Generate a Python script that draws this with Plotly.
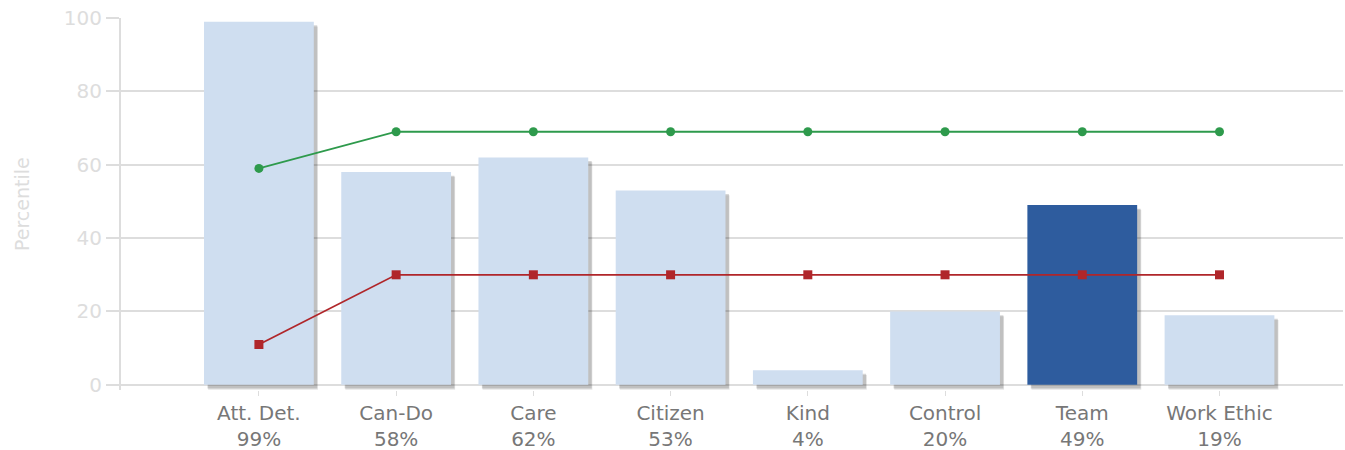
import plotly.graph_objects as go

categories = ["Att. Det.", "Can-Do", "Care", "Citizen", "Kind", "Control", "Team", "Work Ethic"]
scores = [99, 58, 62, 53, 4, 20, 49, 19]
green_line = [59, 69, 69, 69, 69, 69, 69, 69]
red_line = [11, 30, 30, 30, 30, 30, 30, 30]
highlight = "Team"
y_ticks = [0, 20, 40, 60, 80, 100]

x = list(range(len(categories)))
ticktext = [f"{c}<br>{v}%" for c, v in zip(categories, scores)]
bar_colors = ["#2e5c9e" if c == highlight else "#cfdef0" for c in categories]

fig = go.Figure()
# shadow layers
fig.add_trace(go.Bar(x=x, y=scores, base=-1.3, width=0.8, offset=-0.37,
                     marker=dict(color="rgba(0,0,0,0.10)", line=dict(width=0)),
                     hoverinfo="skip", showlegend=False))
fig.add_trace(go.Bar(x=x, y=scores, base=-1.0, width=0.8, offset=-0.375,
                     marker=dict(color="rgba(0,0,0,0.16)", line=dict(width=0)),
                     hoverinfo="skip", showlegend=False))
fig.add_trace(go.Bar(x=x, y=scores, width=0.8, offset=-0.4,
                     marker=dict(color=bar_colors, line=dict(width=0)),
                     showlegend=False))
fig.add_trace(go.Scatter(x=x, y=green_line, mode="lines+markers",
                         line=dict(color="#2e9a4c", width=1.8),
                         marker=dict(symbol="circle", size=9, color="#2e9a4c"),
                         showlegend=False))
fig.add_trace(go.Scatter(x=x, y=red_line, mode="lines+markers",
                         line=dict(color="#b0262a", width=1.8),
                         marker=dict(symbol="square", size=9, color="#b0262a"),
                         showlegend=False))

fig.update_layout(
    width=1345, height=450,
    margin=dict(l=121, r=2, t=18, b=60),
    paper_bgcolor="white", plot_bgcolor="white",
    barmode="overlay",
    font=dict(family="DejaVu Sans", size=20, color="#777777"),
    annotations=[dict(text="Percentile", xref="paper", yref="paper",
                      x=-99 / 1222, y=0.5, xanchor="center", yanchor="middle",
                      textangle=-90, showarrow=False,
                      font=dict(size=19, color="#dddddd"))],
)
fig.update_xaxes(range=[-1.005, 7.9], tickmode="array", tickvals=x, ticktext=ticktext,
                 showgrid=False, zeroline=False, showline=False, automargin=False,
                 ticks="outside", ticklen=5, tickcolor="#dddddd",
                 tickfont=dict(size=20, color="#777777"))
fig.update_yaxes(range=[-1.4, 100], tickmode="array", tickvals=y_ticks,
                 showgrid=True, gridcolor="#dddddd", gridwidth=2, automargin=False,
                 zeroline=False, showline=True, linecolor="#dddddd", linewidth=2,
                 ticks="outside", ticklen=13, tickcolor="#dddddd", tickwidth=2,
                 tickfont=dict(size=20, color="#dddddd"))

fig.write_html("out.html")
